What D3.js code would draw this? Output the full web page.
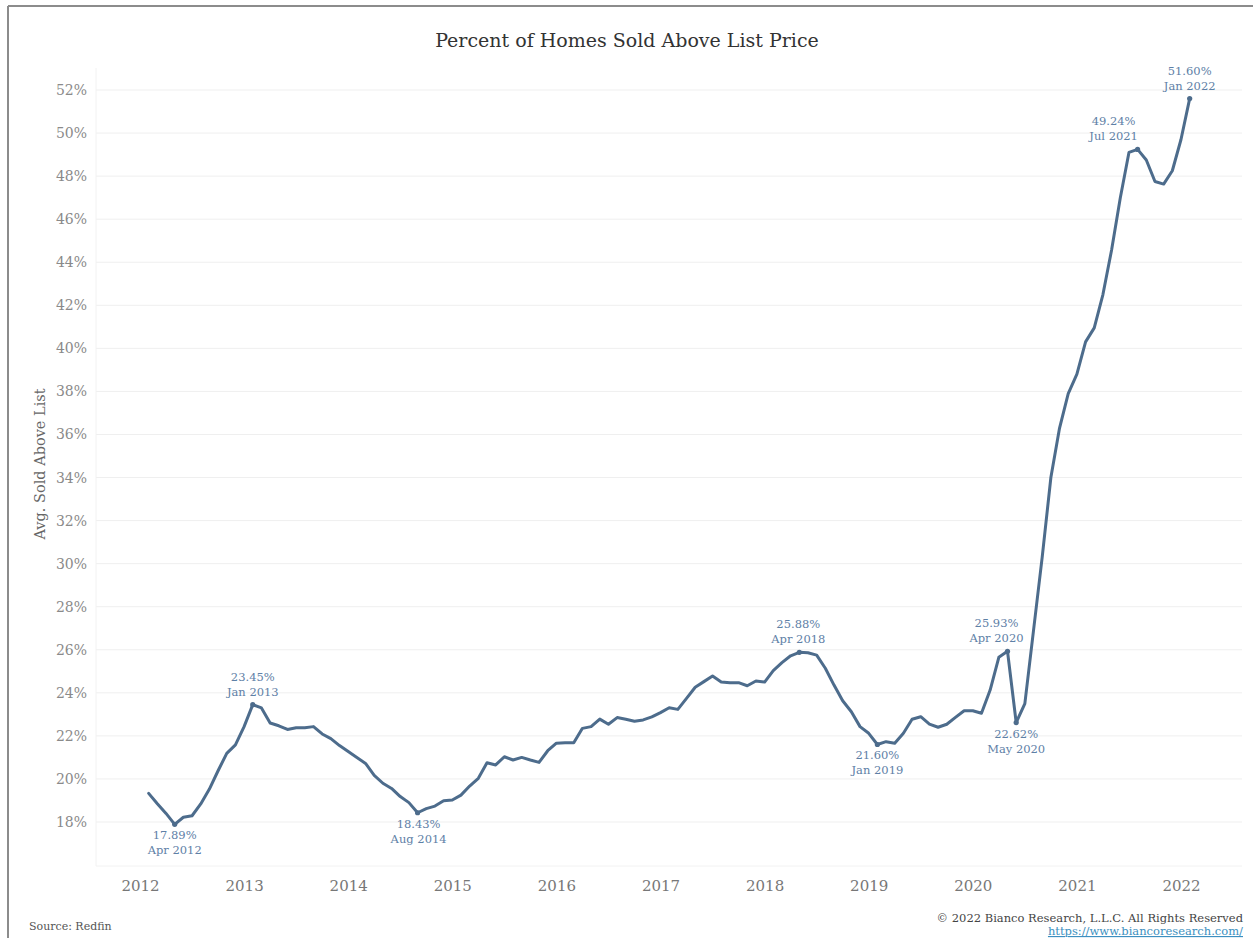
<!DOCTYPE html>
<html>
<head>
<meta charset="utf-8">
<script src="https://cdn.jsdelivr.net/npm/d3@7"></script>
<style>
  html, body { margin: 0; padding: 0; background: #fff; }
  svg { display: block; }
</style>
</head>
<body>
<svg id="chart" width="1253" height="938"></svg>
<script>
// ---------------- DATA ----------------
const title = "Percent of Homes Sold Above List Price";
const yAxisTitle = "Avg. Sold Above List";
const sourceText = "Source: Redfin";
const copyrightText = "© 2022 Bianco Research, L.L.C. All Rights Reserved";
const urlText = "https://www.biancoresearch.com/";

const startYear = 2012;           // first observation: Jan 2012 (monthly series)
const yearLabels = [2012, 2013, 2014, 2015, 2016, 2017, 2018, 2019, 2020, 2021, 2022];
const yTicks = [18, 20, 22, 24, 26, 28, 30, 32, 34, 36, 38, 40, 42, 44, 46, 48, 50, 52];

const v2012 = [19.33, 18.85, 18.40, 17.89, 18.22, 18.29, 18.84, 19.53, 20.38, 21.19, 21.58, 22.43];
const v2013 = [23.45, 23.30, 22.60, 22.47, 22.30, 22.38, 22.38, 22.43, 22.09, 21.87, 21.55, 21.27];
const v2014 = [21.00, 20.72, 20.17, 19.80, 19.56, 19.18, 18.90, 18.43, 18.62, 18.74, 18.99, 19.02];
const v2015 = [19.25, 19.67, 20.03, 20.75, 20.65, 21.03, 20.88, 21.00, 20.88, 20.77, 21.31, 21.66];
const v2016 = [21.68, 21.68, 22.35, 22.43, 22.78, 22.54, 22.85, 22.77, 22.68, 22.74, 22.88, 23.08];
const v2017 = [23.31, 23.23, 23.74, 24.26, 24.52, 24.78, 24.50, 24.47, 24.47, 24.33, 24.55, 24.50];
const v2018 = [25.03, 25.40, 25.72, 25.88, 25.86, 25.75, 25.14, 24.36, 23.63, 23.12, 22.43, 22.12];
const v2019 = [21.60, 21.73, 21.66, 22.12, 22.77, 22.89, 22.55, 22.40, 22.54, 22.86, 23.17, 23.17];
const v2020 = [23.05, 24.13, 25.65, 25.93, 22.62, 23.50, 26.90, 30.30, 34.00, 36.30, 37.90, 38.80];
const v2021 = [40.30, 40.95, 42.50, 44.57, 46.98, 49.10, 49.24, 48.75, 47.75, 47.63, 48.25, 49.70];
const v2022 = [51.60];

const annotations = [
  { label: "Apr 2012", year: 2012, month: 4,  value: 17.89 },
  { label: "Jan 2013", year: 2013, month: 1,  value: 23.45 },
  { label: "Aug 2014", year: 2014, month: 8,  value: 18.43 },
  { label: "Apr 2018", year: 2018, month: 4,  value: 25.88 },
  { label: "Jan 2019", year: 2019, month: 1,  value: 21.60 },
  { label: "Apr 2020", year: 2020, month: 4,  value: 25.93 },
  { label: "May 2020", year: 2020, month: 5,  value: 22.62 },
  { label: "Jul 2021", year: 2021, month: 7,  value: 49.24 },
  { label: "Jan 2022", year: 2022, month: 1,  value: 51.60 }
];

// ---------------- LAYOUT / STYLE ----------------
const FONT = "'DejaVu Serif', 'Liberation Serif', Georgia, serif";
const LINE_COLOR = "#4d6c8c";
const ANNO_COLOR = "#5e80a6";
const TICK_COLOR = "#8a8a8a";
// label placement per annotation: side (above/below) and horizontal nudge (px)
const annoPlacement = {
  "Apr 2012": { side: "below", dx: 0 },
  "Jan 2013": { side: "above", dx: 0 },
  "Aug 2014": { side: "below", dx: 1 },
  "Apr 2018": { side: "above", dx: -1 },
  "Jan 2019": { side: "below", dx: 0 },
  "Apr 2020": { side: "above", dx: -11 },
  "May 2020": { side: "below", dx: 0 },
  "Jul 2021": { side: "above", dx: -24 },
  "Jan 2022": { side: "above", dx: 0 }
};

const svg = d3.select("#chart");

// build series (each monthly value plotted at month end)
const allValues = [].concat(v2012, v2013, v2014, v2015, v2016, v2017, v2018, v2019, v2020, v2021, v2022);
const series = allValues.map((v, i) => ({ t: startYear + (i + 1) / 12, v }));

const x = d3.scaleLinear().domain([2012, 2022]).range([140, 1181]);
const y = d3.scaleLinear().domain([18, 52]).range([822, 90]);

const plotLeft = 96, plotRight = 1242, plotTop = 68, plotBottom = 866;

// frame
svg.append("line").attr("x1", 8).attr("x2", 1253).attr("y1", 6).attr("y2", 6)
  .attr("stroke", "#8c8c8c").attr("stroke-width", 2);
svg.append("line").attr("x1", 8).attr("x2", 8).attr("y1", 6).attr("y2", 938)
  .attr("stroke", "#8c8c8c").attr("stroke-width", 2);

// title
svg.append("text").attr("x", 627).attr("y", 47).attr("text-anchor", "middle")
  .attr("font-family", FONT).attr("font-size", 19).attr("fill", "#333")
  .text(title);

// gridlines
const grid = svg.append("g");
grid.selectAll("line").data(yTicks).join("line")
  .attr("x1", plotLeft).attr("x2", plotRight)
  .attr("y1", d => y(d)).attr("y2", d => y(d))
  .attr("stroke", "#efefef").attr("stroke-width", 1);
svg.append("line").attr("x1", plotLeft).attr("x2", plotLeft).attr("y1", plotTop).attr("y2", plotBottom)
  .attr("stroke", "#f2f2f2");
svg.append("line").attr("x1", plotLeft).attr("x2", plotRight).attr("y1", plotBottom).attr("y2", plotBottom)
  .attr("stroke", "#f2f2f2");

// y axis
const yAxis = d3.axisLeft(y).tickValues(yTicks).tickFormat(d => d + "%").tickSize(0).tickPadding(0);
const gy = svg.append("g").attr("transform", "translate(87,0)").call(yAxis);
gy.select(".domain").remove();
gy.selectAll("text").attr("font-family", FONT).attr("font-size", 14).attr("fill", TICK_COLOR);

// y axis title
svg.append("text")
  .attr("transform", "translate(41,464) rotate(-90)")
  .attr("text-anchor", "middle").attr("dominant-baseline", "middle")
  .attr("font-family", FONT).attr("font-size", 14.5).attr("fill", "#666")
  .text(yAxisTitle);

// x axis
const xAxis = d3.axisBottom(x).tickValues(yearLabels).tickFormat(d3.format("d")).tickSize(0).tickPadding(0);
const gx = svg.append("g").attr("transform", "translate(0,880)").call(xAxis);
gx.select(".domain").remove();
gx.selectAll("text").attr("font-family", FONT).attr("font-size", 15).attr("fill", "#777");

// line
const line = d3.line().x(d => x(d.t)).y(d => y(d.v));
svg.append("path").datum(series)
  .attr("d", line).attr("fill", "none")
  .attr("stroke", LINE_COLOR).attr("stroke-width", 3)
  .attr("stroke-linejoin", "round").attr("stroke-linecap", "round");

// annotations
const ag = svg.append("g");
annotations.forEach(a => {
  const px = x(a.year + a.month / 12), py = y(a.value);
  const p = annoPlacement[a.label];
  ag.append("circle").attr("cx", px).attr("cy", py).attr("r", 2.6).attr("fill", LINE_COLOR);
  const lx = px + p.dx;
  const y1 = p.side === "above" ? py - 24 : py + 15;
  const t = ag.append("text").attr("text-anchor", "middle")
    .attr("font-family", FONT).attr("font-size", 11.5).attr("fill", ANNO_COLOR);
  t.append("tspan").attr("x", lx).attr("y", y1).text(a.value.toFixed(2) + "%");
  t.append("tspan").attr("x", lx).attr("y", y1 + 15).text(a.label);
});

// footer
svg.append("text").attr("x", 29).attr("y", 930)
  .attr("font-family", FONT).attr("font-size", 11).attr("fill", "#555").text(sourceText);
svg.append("text").attr("x", 1243).attr("y", 922).attr("text-anchor", "end")
  .attr("font-family", FONT).attr("font-size", 11.5).attr("fill", "#444").text(copyrightText);
svg.append("text").attr("x", 1243).attr("y", 935).attr("text-anchor", "end")
  .attr("font-family", FONT).attr("font-size", 11.5).attr("fill", "#3c8fc0")
  .attr("text-decoration", "underline").text(urlText);
</script>
</body>
</html>
